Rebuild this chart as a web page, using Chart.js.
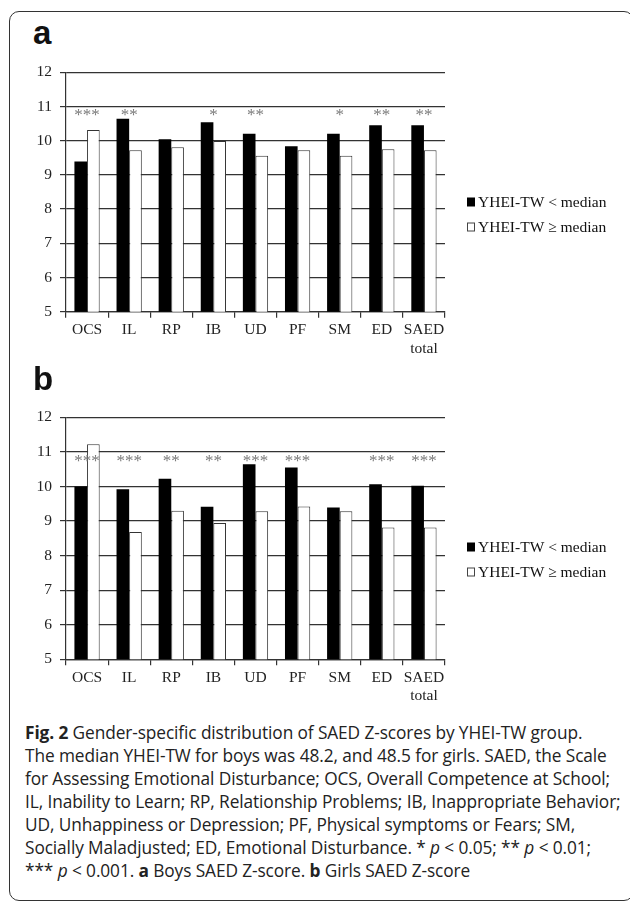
<!DOCTYPE html>
<html>
<head>
<meta charset="utf-8">
<script src="https://cdn.jsdelivr.net/npm/chart.js@4/dist/chart.umd.min.js"></script>
<style>
  html, body { margin: 0; padding: 0; background: #fff; }
  #page { position: relative; width: 630px; height: 904px; overflow: hidden; }
  .frame { position: absolute; left: 9px; top: 11px; width: 625px; height: 890px;
           border: 1.5px solid #333; border-radius: 10px; box-sizing: border-box; }
  .panel-letter { position: absolute; left: 33px; font: bold 33px "Liberation Sans", Arial, sans-serif; color: #111; }
  canvas { position: absolute; left: 0; }
  .caption { position: absolute; left: 25px; font-family: "Open Sans", sans-serif; font-size: 17.3px;
             color: #222; white-space: nowrap; line-height: 23px; letter-spacing: -0.1px; }
  .caption b { font-weight: 700; }
</style>
</head>
<body>
<div id="page">
  <div class="frame"></div>
  <div class="panel-letter" style="top:14px">a</div>
  <canvas id="chartA" width="630" height="310" style="top:55px"></canvas>
  <div class="panel-letter" style="top:360px">b</div>
  <canvas id="chartB" width="630" height="310" style="top:400px"></canvas>
  <div class="caption" style="top:721px">
    <div><b>Fig. 2</b> Gender-specific distribution of SAED Z-scores by YHEI-TW group.</div>
    <div>The median YHEI-TW for boys was 48.2, and 48.5 for girls. SAED, the Scale</div>
    <div>for Assessing Emotional Disturbance; OCS, Overall Competence at School;</div>
    <div>IL, Inability to Learn; RP, Relationship Problems; IB, Inappropriate Behavior;</div>
    <div>UD, Unhappiness or Depression; PF, Physical symptoms or Fears; SM,</div>
    <div>Socially Maladjusted; ED, Emotional Disturbance. * <i>p</i> &lt; 0.05; ** <i>p</i> &lt; 0.01;</div>
    <div>*** <i>p</i> &lt; 0.001. <b>a</b> Boys SAED Z-score. <b>b</b> Girls SAED Z-score</div>
  </div>
</div>
<script>
// 数据
const categories = ['OCS', 'IL', 'RP', 'IB', 'UD', 'PF', 'SM', 'ED', ['SAED', 'total']];
const seriesLabels = ['YHEI-TW < median', 'YHEI-TW \u2265 median'];

const boysBelow  = [9.39, 10.64, 10.04, 10.54, 10.20, 9.84, 10.20, 10.45, 10.45];
const boysAbove  = [10.31, 9.72, 9.81, 9.99, 9.56, 9.72, 9.56, 9.75, 9.72];
const boysStars  = ['***', '**', '', '*', '**', '', '*', '**', '**'];

const girlsBelow = [10.00, 9.92, 10.22, 9.41, 10.64, 10.55, 9.39, 10.06, 10.02];
const girlsAbove = [11.22, 8.68, 9.30, 8.94, 9.28, 9.42, 9.28, 8.81, 8.81];
const girlsStars = ['***', '***', '**', '**', '***', '***', '', '***', '***'];

const yMin = 5;
const yMax = 12;
const yStep = 1;
const starLevel = 10.76;

const serif = '"Liberation Serif", "Times New Roman", serif';

// 显著性星号
const starsPlugin = {
    id: 'stars',
    afterDatasetsDraw(chart, args, opts) {
        const ctx = chart.ctx;
        const x = chart.scales.x;
        const y = chart.scales.y;
        ctx.save();
        ctx.fillStyle = '#7a7a7a';
        ctx.font = '17px ' + serif;
        ctx.textAlign = 'center';
        ctx.textBaseline = 'middle';
        opts.marks.forEach((m, i) => {
            if (m) ctx.fillText(m, x.getPixelForValue(i), y.getPixelForValue(starLevel) + 1);
        });
        ctx.restore();
    }
};

// 右侧图例
const legendPlugin = {
    id: 'sideLegend',
    afterDraw(chart) {
        const ctx = chart.ctx;
        const left = chart.chartArea.right + 22;
        ctx.save();
        ctx.font = '15.5px ' + serif;
        ctx.textBaseline = 'middle';
        chart.data.datasets.forEach((ds, i) => {
            const cy = 147 + i * 25;
            ctx.fillStyle = ds.backgroundColor;
            ctx.fillRect(left, cy - 4.5, 8, 9);
            if (ds.borderWidth) {
                ctx.strokeStyle = '#444';
                ctx.lineWidth = 1;
                ctx.strokeRect(left + 0.5, cy - 4, 7, 8);
            }
            ctx.fillStyle = '#111';
            ctx.fillText(ds.label, left + 11, cy + 1);
        });
        ctx.restore();
    }
};

function makeChart(id, below, above, marks, padBottom) {
    return new Chart(document.getElementById(id), {
        type: 'bar',
        data: {
            labels: categories,
            datasets: [
                { label: seriesLabels[0], data: below, backgroundColor: '#000', borderColor: '#000', borderWidth: 0 },
                { label: seriesLabels[1], data: above, backgroundColor: '#fff', borderColor: '#333', borderWidth: 1 }
            ]
        },
        options: {
            responsive: false,
            animation: false,
            devicePixelRatio: 1,
            categoryPercentage: 0.6,
            barPercentage: 1.0,
            layout: { padding: { left: 0, right: 185, top: 12.3, bottom: padBottom } },
            plugins: {
                legend: { display: false },
                tooltip: { enabled: false },
                stars: { marks: marks }
            },
            scales: {
                x: {
                    afterFit(s) { s.height = 48; },
                    grid: { drawOnChartArea: false, drawTicks: true, tickLength: 6, color: '#333', lineWidth: 1.2, offset: true },
                    border: { display: true, color: '#333', width: 1.2 },
                    ticks: { font: { family: serif, size: 15.5 }, color: '#222', padding: 3, maxRotation: 0, autoSkip: false }
                },
                y: {
                    min: yMin,
                    max: yMax,
                    afterFit(s) { s.width = 66; },
                    grid: { color: '#333', lineWidth: 1.2, tickLength: 6 },
                    border: { display: true, color: '#333', width: 1.2 },
                    ticks: { stepSize: yStep, font: { family: serif, size: 15.5 }, color: '#222', padding: 8 }
                }
            }
        },
        plugins: [starsPlugin, legendPlugin]
    });
}

makeChart('chartA', boysBelow, boysAbove, boysStars, 5.3);
makeChart('chartB', girlsBelow, girlsAbove, girlsStars, 2.7);
</script>
</body>
</html>
